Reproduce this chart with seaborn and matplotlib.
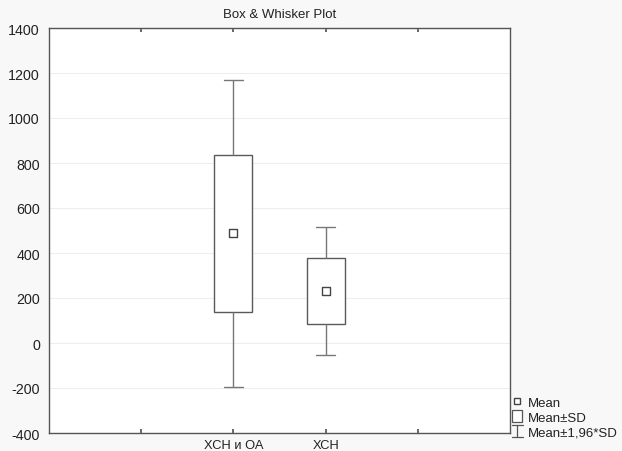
import numpy as np
import pandas as pd
import matplotlib
matplotlib.use("Agg")
import matplotlib.pyplot as plt
import seaborn as sns
from matplotlib.lines import Line2D
from matplotlib.patches import Rectangle
from matplotlib.legend_handler import HandlerBase

categories = ["ХСН и ОА", "ХСН"]
means = [487, 231]
sds = [348, 146]
yticks = [-400, -200, 0, 200, 400, 600, 800, 1000, 1200, 1400]

sns.set_theme(style="white")
plt.rcParams['font.family'] = ['Liberation Sans', 'DejaVu Sans']

# five-point summaries per group: mean-1.96SD, mean-SD, mean, mean+SD, mean+1.96SD
rows = []
for c, m, s in zip(categories, means, sds):
    for k in (-1.96, -1.0, 0.0, 1.0, 1.96):
        rows.append({"group": c, "value": m + k * s})
df = pd.DataFrame(rows)
mdf = pd.DataFrame({"group": categories, "mean": means})

fig = plt.figure(figsize=(6.22, 4.52), dpi=100, facecolor="#f8f8f8")
ax = fig.add_axes([49/622, 1 - 434/452, (510-49)/622, (434-29)/452])
ax.set_facecolor("white")

edge = "#5a5a5a"
sns.boxplot(data=df, x="group", y="value", order=categories, whis=np.inf,
            width=0.41, color="white", linewidth=1.0, ax=ax,
            boxprops=dict(edgecolor=edge, facecolor="white"),
            whiskerprops=dict(color="#777777"),
            capprops=dict(color="#777777"),
            medianprops=dict(visible=False),
            showfliers=False)
sns.scatterplot(data=mdf, x="group", y="mean", marker="s", s=30,
                facecolor="white", edgecolor="#444444", linewidth=1.0,
                ax=ax, zorder=5)

fs = 9.5
ax.set_xlim(-2, 3)
ax.set_ylim(-400, 1400)
ax.set_yticks(yticks)
ax.set_yticklabels([str(v) for v in yticks], fontsize=10.3, color="#222222")
ax.set_xticks([-1, 0, 1, 2])
ax.set_xticklabels(["", categories[0], categories[1], ""], fontsize=9.3, color="#222222")
ax.set_xlabel("")
ax.set_ylabel("")
ax.yaxis.grid(True, color="#eeeeee", linewidth=0.8)
ax.set_axisbelow(True)
ax.tick_params(axis="x", direction="in", length=3, color="#555555", pad=4,
               top=True, bottom=True)
ax.tick_params(axis="y", direction="in", length=2, color="#555555", pad=6.5)
for sp in ax.spines.values():
    sp.set_color("#555555")
    sp.set_linewidth(1.0)
    sp.set_visible(True)

ax.set_title("Box & Whisker Plot", fontsize=fs, color="#222222", pad=8)


class WhiskerHandler(HandlerBase):
    def create_artists(self, legend, orig, xd, yd, width, height, fontsize, trans):
        cx = xd + width / 2
        y0, y1 = yd - 1, yd + height + 1
        w = width * 0.45
        lines = [
            Line2D([cx, cx], [y0, y1], color="#555555", lw=0.9),
            Line2D([cx - w, cx + w], [y0, y0], color="#555555", lw=0.9),
            Line2D([cx - w, cx + w], [y1, y1], color="#555555", lw=0.9),
        ]
        for l in lines:
            l.set_transform(trans)
        return lines


class BoxHandler(HandlerBase):
    def create_artists(self, legend, orig, xd, yd, width, height, fontsize, trans):
        r = Rectangle((xd + width * 0.1, yd - 1), width * 0.8, height + 2,
                      facecolor="white", edgecolor="#555555", lw=0.9,
                      transform=trans)
        return [r]


mean_h = Line2D([0], [0], marker="s", linestyle="none", markersize=5,
                markerfacecolor="white", markeredgecolor="#444444")
box_h = Rectangle((0, 0), 1, 1)
wh_h = Line2D([0], [0])
leg = fig.legend([mean_h, box_h, wh_h], ["Mean", "Mean±SD", "Mean±1,96*SD"],
                 handler_map={box_h: BoxHandler(), wh_h: WhiskerHandler()},
                 loc="lower left", bbox_to_anchor=(502/622, 3/452),
                 frameon=False, fontsize=fs, handlelength=0.9,
                 handletextpad=0.35, labelspacing=0.2, borderpad=0.2)
for t in leg.get_texts():
    t.set_color("#222222")

fig.savefig("out.png", dpi=100, facecolor=fig.get_facecolor())
